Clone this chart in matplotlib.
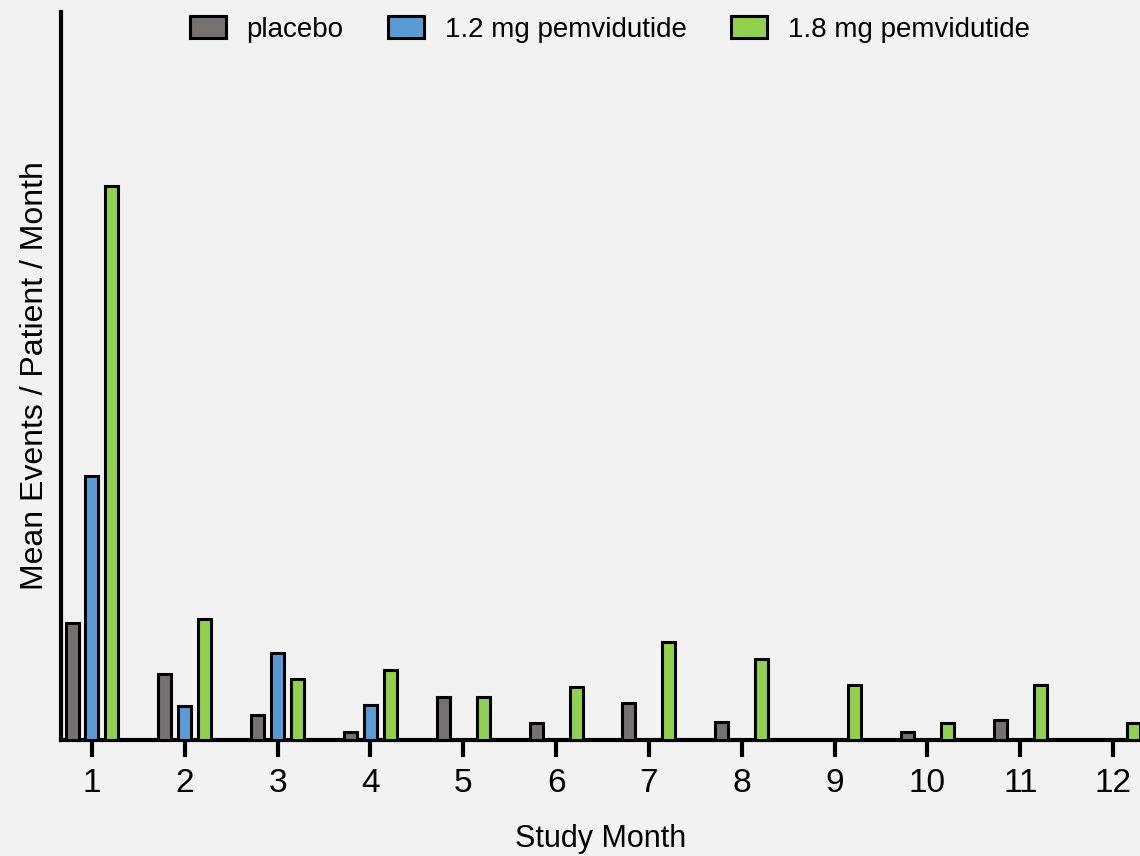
import numpy as np
import matplotlib.pyplot as plt
from matplotlib.patches import Patch

months = np.arange(1, 13)
placebo = [1.17, 0.66, 0.25, 0.08, 0.43, 0.17, 0.37, 0.18, 0.0, 0.08, 0.20, 0.0]
dose_12 = [2.64, 0.34, 0.87, 0.35, 0, 0, 0, 0, 0, 0, 0, 0]
dose_18 = [5.54, 1.21, 0.61, 0.70, 0.43, 0.53, 0.98, 0.81, 0.55, 0.17, 0.55, 0.17]
labels = ['placebo', '1.2 mg pemvidutide', '1.8 mg pemvidutide']
colors = ['#767171', '#5b9bd5', '#92d050']

plt.rcParams['font.family'] = ['Liberation Sans', 'DejaVu Sans']

fig = plt.figure(figsize=(11.4, 8.56), dpi=100, facecolor='#f2f2f2')
ax = fig.add_axes([0.0535, 0.1355, 0.9465, 0.8505])
ax.set_facecolor('#f2f2f2')

offset = 0.215
width = 0.14
for i, vals in enumerate([placebo, dose_12, dose_18]):
    v = np.array(vals, dtype=float)
    m = v > 0
    ax.bar(months[m] + (i - 1) * offset, v[m], width=width, color=colors[i],
           edgecolor='black', linewidth=2.2, zorder=3)

ax.set_xlim(0.666, 12.29)
ax.set_ylim(0, 7.28)
ax.set_xticks(months)
ax.set_yticks([])
for s in ['top', 'right']:
    ax.spines[s].set_visible(False)
for s in ['left', 'bottom']:
    ax.spines[s].set_linewidth(3)
ax.tick_params(axis='x', length=12, width=3, labelsize=24, pad=8)
ax.set_xlabel('Study Month', fontsize=22, labelpad=18)
ax.set_ylabel('Mean Events / Patient / Month', fontsize=23, labelpad=8)

handles = [Patch(facecolor=c, edgecolor='black', linewidth=2.2) for c in colors]
fig.legend(handles, labels, loc='upper center', bbox_to_anchor=(0.535, 1.01),
           ncol=3, frameon=False, fontsize=20, handlelength=1.3, handleheight=0.8,
           columnspacing=1.6, handletextpad=0.75)

fig.savefig('out.png', dpi=100, facecolor=fig.get_facecolor())
